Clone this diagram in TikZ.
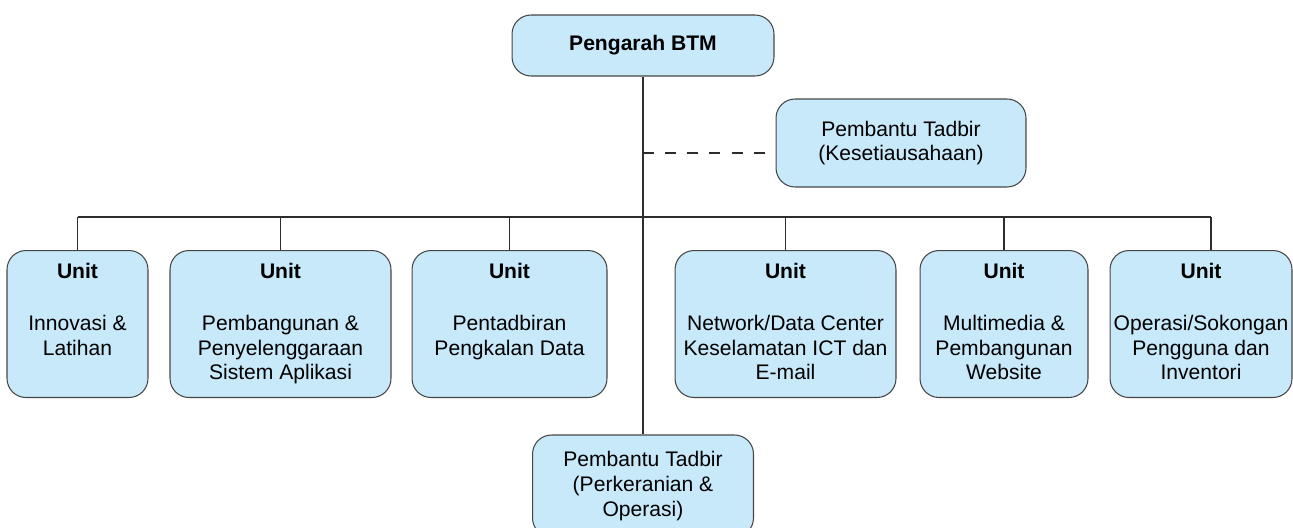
\documentclass[tikz,border=0pt]{standalone}
\usepackage{fontspec}
\setmainfont{Liberation Sans}
\usepackage{tikz}

\definecolor{boxfill}{RGB}{200,233,249}
\definecolor{boxline}{RGB}{70,70,70}
\definecolor{linkline}{RGB}{45,45,45}

\tikzset{
  box/.style={draw=boxline, fill=boxfill, rounded corners=0.38cm, line width=0.6pt,
    font=\fontsize{12pt}{14pt}\selectfont, align=center, inner sep=0pt},
  unitbox/.style={box, minimum height=2.94cm, anchor=north},
  link/.style={draw=linkline, line width=0.6pt}
}

\newcommand{\unitlbl}[2]{\parbox[c][2.42cm][t]{#1}{\centering\textbf{Unit}\\[15.5pt]#2}}

\begin{document}
\begin{tikzpicture}[x=0.02cm,y=-0.02cm]
    \useasboundingbox (0,0) rectangle (1293,527);
    \begin{scope}
      % head and secretary
      \node[box, minimum width=5.24cm, minimum height=1.22cm] (head) at (643,45.5) {\textbf{Pengarah BTM}};
      \node[box, minimum width=5.0cm, minimum height=1.76cm] (kes) at (901,143) {Pembantu Tadbir\\(Kesetiausahaan)};
      \node[box, minimum width=4.42cm, minimum height=2.04cm] (opr) at (643,486) {Pembantu Tadbir\\(Perkeranian \&\\Operasi)};

      % units
      \node[unitbox, minimum width=2.82cm] (u1) at (77.5,250) {\unitlbl{2.6cm}{Innovasi \&\\Latihan}};
      \node[unitbox, minimum width=4.42cm] (u2) at (280.5,250) {\unitlbl{4.2cm}{Pembangunan \&\\Penyelenggaraan\\Sistem Aplikasi}};
      \node[unitbox, minimum width=3.9cm] (u3) at (509.5,250) {\unitlbl{3.7cm}{Pentadbiran\\Pengkalan Data}};
      \node[unitbox, minimum width=4.42cm] (u4) at (785.5,250) {\unitlbl{4.2cm}{Network/Data Center\\Keselamatan ICT dan\\E-mail}};
      \node[unitbox, minimum width=3.36cm] (u5) at (1004,250) {\unitlbl{3.1cm}{Multimedia \&\\Pembangunan\\Website}};
      \node[unitbox, minimum width=3.64cm] (u6) at (1201,250) {\unitlbl{3.4cm}{\makebox[0pt]{Operasi/Sokongan}\\Pengguna dan\\Inventori}};

      % lines
      \coordinate (busL) at (77.5,217);
      \coordinate (busR) at (1211,217);
      \coordinate (dsh) at (643,153);
      \draw[link] (head) -- (opr);
      \draw[link] (busL) -- (busR);
      \draw[link, dash pattern=on 6.3pt off 6.3pt] (dsh) -- (dsh -| kes.west);
      \foreach \u in {u1,u2,u3,u4,u5}
        \draw[link] (\u.north) -- (\u.north |- busL);
      \draw[link] (busR) -- (busR |- u6.north);
    \end{scope}
  \end{tikzpicture}
\end{document}
